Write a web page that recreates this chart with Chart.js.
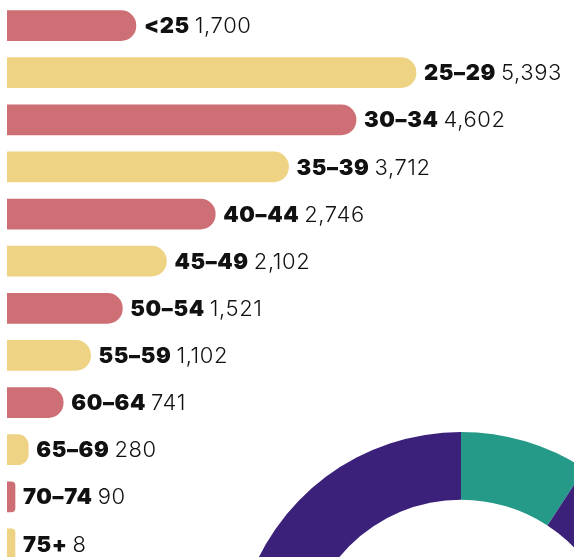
<!DOCTYPE html>
<html>
<head>
<meta charset="utf-8">
<script src="https://cdn.jsdelivr.net/npm/chart.js@4/dist/chart.umd.min.js"></script>
<style>
  html, body { margin: 0; padding: 0; background: #fff; overflow: hidden; width: 574px; height: 557px; }
  #age-chart { position: absolute; left: 0; top: 0; }
  #share-chart { position: absolute; left: 231px; top: 428px; }
</style>
</head>
<body>
<canvas id="age-chart" width="574" height="570"></canvas>
<canvas id="share-chart" width="460" height="460"></canvas>
<script>
const ageGroups = ["<25", "25–29", "30–34", "35–39", "40–44", "45–49", "50–54", "55–59", "60–64", "65–69", "70–74", "75+"];
const counts = [1700, 5393, 4602, 3712, 2746, 2102, 1521, 1102, 741, 280, 90, 8];

const shareLabels = ["Group A", "Group B"];
const shareValues = [9.2, 90.8];

const pink = "#cd6f74";
const yellow = "#eed384";

// draws "<bold group> value" right after each bar
const barLabels = {
  id: "barLabels",
  afterDatasetsDraw(chart) {
    const ctx = chart.ctx;
    const meta = chart.getDatasetMeta(0);
    ctx.save();
    ctx.textBaseline = "middle";
    ctx.fillStyle = "#111";
    ctx.letterSpacing = "0.6px";
    meta.data.forEach((bar, i) => {
      let x = bar.x + 8;
      const y = bar.y + 1;
      ctx.font = "900 22px Inter";
      ctx.fillText(ageGroups[i], x, y);
      x += ctx.measureText(ageGroups[i]).width + 5;
      ctx.font = "300 22px Inter";
      ctx.fillText(counts[i].toLocaleString("en-US"), x, y);
    });
    ctx.restore();
  },
};

new Chart(document.getElementById("age-chart"), {
  type: "bar",
  data: {
    labels: ageGroups,
    datasets: [
      {
        data: counts,
        backgroundColor: counts.map((v, i) => (i % 2 === 0 ? pink : yellow)),
        borderRadius: 15,
        borderSkipped: "start",
        barThickness: 30,
        minBarLength: 8,
      },
    ],
  },
  options: {
    indexAxis: "y",
    responsive: false,
    animation: false,
    layout: { padding: { left: 7, top: 2, bottom: 2.5, right: 0 } },
    plugins: { legend: { display: false }, tooltip: { enabled: false } },
    scales: {
      x: { display: false, min: 0, max: 7476 },
      y: { display: false },
    },
  },
  plugins: [barLabels],
});

new Chart(document.getElementById("share-chart"), {
  type: "doughnut",
  data: {
    labels: shareLabels,
    datasets: [
      {
        data: shareValues,
        backgroundColor: ["#269a89", "#3b217a"],
        borderWidth: 0,
      },
    ],
  },
  options: {
    responsive: false,
    animation: false,
    cutout: "70%",
    layout: { padding: 4 },
    plugins: { legend: { display: false }, tooltip: { enabled: false } },
  },
});
</script>
</body>
</html>
